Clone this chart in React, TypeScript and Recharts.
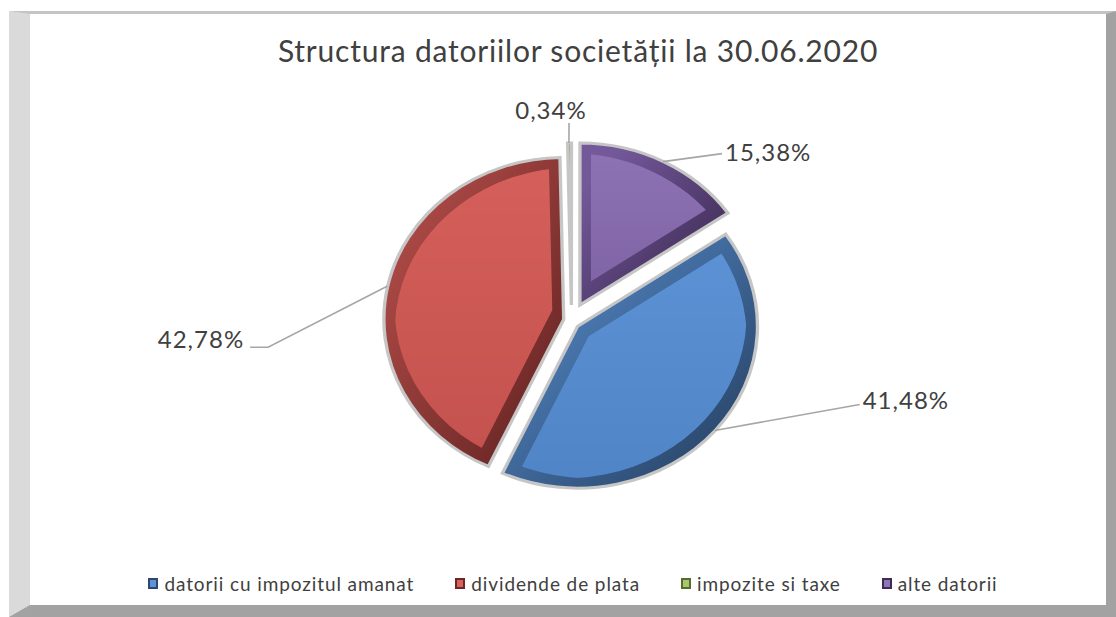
import { Cell, Legend, Pie, PieChart } from "recharts";

const chartTitle = "Structura datoriilor societății la 30.06.2020";
const categories = [
  "datorii cu impozitul amanat",
  "dividende de plata",
  "impozite si taxe",
  "alte datorii",
];
const shares = [41.48, 42.78, 0.34, 15.38];

// bevel look: face gradient + darker rim, per slice
const faceTop = ["#5e94d7", "#d7615c", "#a6c76a", "#9075b6"];
const faceBottom = ["#5085c7", "#c4524e", "#92b257", "#7f63a5"];
const rimLight = ["#5285c2", "#ad4a47", "#7d9a46", "#73589a"];
const rimDark = ["#2b486d", "#6c2826", "#566c2e", "#3f2c55"];
const explode = [8, 8, 16, 18];

const labelLayout = [
  { dx: 145, dy: -26, tail: 0, tx: 3, ty: -5, anchor: "start" },
  { dx: -119, dy: 61, tail: -18, tx: -6, ty: -9, anchor: "end" },
  { dx: 0, dy: -20, tail: 0, tx: -18, ty: -14, anchor: "middle" },
  { dx: 59, dy: -8, tail: 0, tx: 3, ty: -2, anchor: "start" },
] as const;

const CX = 566;
const CY = 316;
const R = 162;
const SX = 1.11; // the original pie is a little wider than tall
const START = 34.6;
const FONT = "Lato, 'Open Sans', sans-serif";

const total = shares.reduce((a, b) => a + b, 0);
const midAngles = shares.map((v, i) => {
  const before = shares.slice(0, i).reduce((a, b) => a + b, 0);
  return START - ((before + v / 2) / total) * 360;
});

const data = categories.map((name, i) => ({ name, value: shares[i] }));

function offsetOf(i: number) {
  const a = (-midAngles[i] * Math.PI) / 180;
  return [explode[i] * Math.cos(a), explode[i] * Math.sin(a)];
}

function sliceTransform(i: number) {
  const [ox, oy] = offsetOf(i);
  return `translate(${CX * (1 - SX) + ox} ${oy}) scale(${SX} 1)`;
}

const fmt = (v: number) => `${v.toFixed(2).replace(".", ",")}%`;

function renderLabel(props: any) {
  const { cx, cy, midAngle, outerRadius, index, value } = props;
  const a = (-midAngle * Math.PI) / 180;
  const [ox, oy] = offsetOf(index);
  const x0 = cx + SX * outerRadius * Math.cos(a) + ox;
  const y0 = cy + outerRadius * Math.sin(a) + oy;
  const L = labelLayout[index];
  const x1 = x0 + L.dx;
  const y1 = y0 + L.dy;
  const x2 = x1 + L.tail;
  return (
    <g>
      <polyline
        points={`${x0},${y0} ${x1},${y1} ${x2},${y1}`}
        fill="none"
        stroke="#a6a6a6"
        strokeWidth={1.6}
      />
      <text
        x={x2 + L.tx}
        y={y1 + L.ty}
        textAnchor={L.anchor}
        dominantBaseline="central"
        fill="#404040"
        fontSize={24}
        letterSpacing={1}
        fontFamily={FONT}
      >
        {fmt(value)}
      </text>
    </g>
  );
}

function LegendContent() {
  return (
    <div
      style={{
        display: "flex",
        justifyContent: "center",
        gap: 41,
        fontFamily: FONT,
        fontSize: 19,
        letterSpacing: 0.9,
        color: "#404040",
        paddingLeft: 30,
      }}
    >
      {categories.map((c, i) => (
        <span key={c} style={{ display: "inline-flex", alignItems: "center" }}>
          <svg width={10} height={11} style={{ marginRight: 6 }}>
            <rect x={1} y={1} width={8} height={9} fill={faceTop[i]} stroke={rimDark[i]} strokeWidth={2} />
          </svg>
          {c}
        </span>
      ))}
    </div>
  );
}

export default function App() {
  return (
    <div
      style={{
        position: "fixed",
        left: 0,
        top: 0,
        width: 1116,
        height: 617,
        background: "#fff",
        overflow: "hidden",
      }}
    >
      <svg width={0} height={0} style={{ position: "absolute" }}>
        <defs>
          {categories.map((c, i) => (
            <linearGradient key={`f${i}`} id={`face${i}`} x1="0" y1="0" x2="0" y2="1">
              <stop offset="0%" stopColor={faceTop[i]} />
              <stop offset="100%" stopColor={faceBottom[i]} />
            </linearGradient>
          ))}
          {categories.map((c, i) => (
            <linearGradient key={`r${i}`} id={`rim${i}`} x1="0" y1="0" x2="1" y2="1">
              <stop offset="15%" stopColor={rimLight[i]} />
              <stop offset="85%" stopColor={rimDark[i]} />
            </linearGradient>
          ))}
          <filter id="inset" colorInterpolationFilters="sRGB">
            <feMorphology operator="erode" radius={10} />
          </filter>
        </defs>
      </svg>

      <div
        style={{
          position: "absolute",
          left: 9,
          top: 11,
          width: 1107,
          height: 606,
          boxSizing: "border-box",
          borderLeft: "21px solid #dadada",
          borderTop: "3px solid #c4c4c4",
          borderRight: "10px solid #a2a2a2",
          borderBottom: "12px solid #a2a2a2",
        }}
      />

      <div
        style={{
          position: "absolute",
          left: 578,
          top: 32,
          transform: "translateX(-50%)",
          whiteSpace: "nowrap",
          fontFamily: FONT,
          fontSize: 30,
          letterSpacing: 0.8,
          color: "#404040",
        }}
      >
        {chartTitle}
      </div>

      <div style={{ position: "absolute", left: 0, top: 0 }}>
        <PieChart width={1116} height={617}>
          <Pie
            data={data}
            dataKey="value"
            nameKey="name"
            cx={CX}
            cy={CY}
            outerRadius={R}
            startAngle={START}
            endAngle={START - 360}
            stroke="#c6c6c6"
            strokeWidth={3}
            label={renderLabel}
            labelLine={false}
            isAnimationActive={false}
          >
            {data.map((d, i) => (
              <Cell key={d.name} fill={`url(#rim${i})`} transform={sliceTransform(i)} />
            ))}
          </Pie>
          <Pie
            data={data}
            dataKey="value"
            nameKey="name"
            cx={CX}
            cy={CY}
            outerRadius={R}
            startAngle={START}
            endAngle={START - 360}
            stroke="none"
            legendType="none"
            isAnimationActive={false}
          >
            {data.map((d, i) => (
              <Cell
                key={d.name}
                fill={`url(#face${i})`}
                transform={sliceTransform(i)}
                filter="url(#inset)"
              />
            ))}
          </Pie>
          <Legend
            content={() => <LegendContent />}
            wrapperStyle={{ position: "absolute", left: 0, top: 572, width: 1116, bottom: "auto" }}
          />
        </PieChart>
      </div>
    </div>
  );
}
